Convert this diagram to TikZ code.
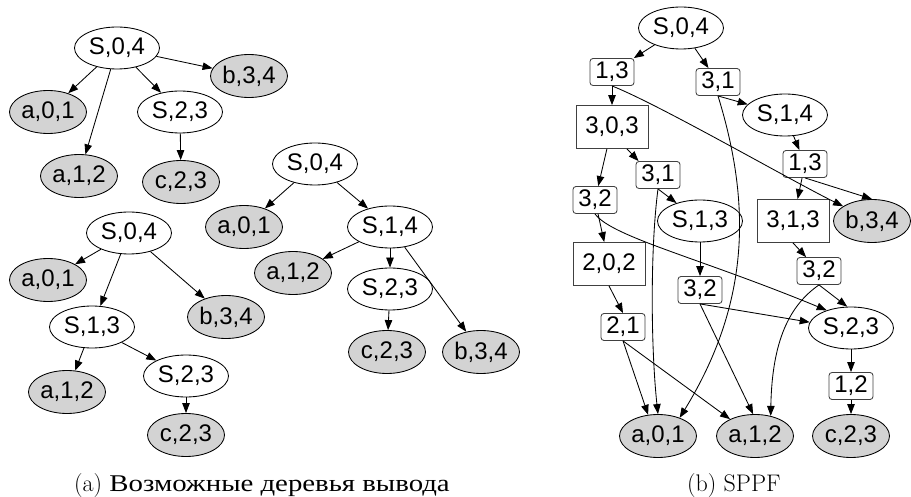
\documentclass[tikz,border=0pt]{standalone}
\usepackage{fontspec}
\setsansfont{Liberation Sans}
\newfontfamily\capfont[FakeStretch=1.2]{Liberation Serif}
\usetikzlibrary{shapes.geometric,arrows.meta}
\definecolor{leafgray}{HTML}{D3D3D3}
\tikzset{
  nd/.style={font=\sffamily\fontsize{24}{24}\selectfont, inner sep=0pt, draw=black, line width=0.85pt},
  inode/.style={nd, ellipse, minimum width=85pt, minimum height=42pt, fill=white},
  leaf/.style={nd, ellipse, minimum width=77pt, minimum height=43pt, fill=leafgray},
  pack/.style={nd, rectangle, rounded corners=3pt, minimum width=44pt, minimum height=27pt, draw=black!75},
  inter/.style={nd, rectangle, minimum width=72pt, minimum height=43pt, draw=black!75},
  conn/.style={-{Triangle[length=10pt,width=7.5pt]}, line width=0.85pt},
  captxt/.style={anchor=base west, inner sep=0pt, font=\fontsize{24}{24}\selectfont},
}
\begin{document}
\begin{tikzpicture}[x=1pt,y=-1pt]
\useasboundingbox (0,0) rectangle (911,497);

% ---- tree 1
\node[inode] (as04) at (117,48) {S,0,4};
\node[leaf]  (ab34) at (249,76) {b,3,4};
\node[leaf]  (aa01) at (48,112) {a,0,1};
\node[inode] (as23) at (180,112) {S,2,3};
\node[leaf]  (aa12) at (79,176) {a,1,2};
\node[leaf]  (ac23) at (181,182) {c,2,3};
\draw[conn] (as04) -- (aa01);
\draw[conn] (as04) -- (aa12);
\draw[conn] (as04) -- (as23);
\draw[conn] (as04) -- (ab34);
\draw[conn] (as23) -- (ac23);

% ---- tree 2
\node[inode] (bs04) at (129,233) {S,0,4};
\node[leaf]  (ba01) at (48,280) {a,0,1};
\node[leaf]  (bb34) at (226,317) {b,3,4};
\node[inode] (bs13) at (92,327) {S,1,3};
\node[inode] (bs23) at (186,376) {S,2,3};
\node[leaf]  (ba12) at (67,392) {a,1,2};
\node[leaf]  (bc23) at (186,435) {c,2,3};
\draw[conn] (bs04) -- (ba01);
\draw[conn] (bs04) -- (bs13);
\draw[conn] (bs04) -- (bb34);
\draw[conn] (bs13) -- (ba12);
\draw[conn] (bs13) -- (bs23);
\draw[conn] (bs23) -- (bc23);

% ---- tree 3
\node[inode] (cs04) at (315,164) {S,0,4};
\node[leaf]  (ca01) at (244,227) {a,0,1};
\node[inode] (cs14) at (390,227) {S,1,4};
\node[leaf]  (ca12) at (293,273) {a,1,2};
\node[inode] (cs23) at (390,289) {S,2,3};
\node[leaf]  (cc23) at (387,352) {c,2,3};
\node[leaf]  (cb34) at (481,352) {b,3,4};
\draw[conn] (cs04) -- (ca01);
\draw[conn] (cs04) -- (cs14);
\draw[conn] (cs14) -- (ca12);
\draw[conn] (cs14) -- (cs23);
\draw[conn] (cs14) -- (cb34);
\draw[conn] (cs23) -- (cc23);

% ---- SPPF
\node[inode] (s04)  at (681,28)  {S,0,4};
\node[pack]  (p13a) at (612,72)  {1,3};
\node[pack]  (p31a) at (718,82)  {3,1};
\node[inter] (r303) at (612,127) {3,0,3};
\node[inode] (s14)  at (785,115) {S,1,4};
\node[pack]  (p13b) at (805,164) {1,3};
\node[pack]  (p31b) at (658,175) {3,1};
\node[pack]  (p32a) at (595,200) {3,2};
\node[inode] (s13)  at (700,221) {S,1,3};
\node[inter] (r313) at (793,221) {3,1,3};
\node[leaf]  (b34)  at (872,221) {b,3,4};
\node[inter] (r202) at (609,264) {2,0,2};
\node[pack]  (p32b) at (700,290) {3,2};
\node[pack]  (p32c) at (819,271) {3,2};
\node[inode] (s23)  at (851,328) {S,2,3};
\node[pack]  (p21)  at (623,327) {2,1};
\node[pack]  (p12)  at (851,386) {1,2};
\node[leaf]  (a01)  at (658,436) {a,0,1};
\node[leaf]  (a12)  at (755,436) {a,1,2};
\node[leaf]  (c23)  at (851,436) {c,2,3};

\draw[conn] (s04) -- (p13a);
\draw[conn] (s04) -- (p31a);
\draw[conn] (p13a) -- (r303);
\draw[conn] (p13a.south) .. controls (660,105) and (790,180) .. (b34.153);
\draw[conn] (p31a.south) -- (s14);
\draw[conn] (p31a.south) .. controls (750,200) and (752,300) .. (a01.40);
\draw[conn] (s14) -- (p13b);
\draw[conn] (p13b) -- (r313);
\draw[conn] (p13b.south) -- (b34.north);
\draw[conn] (r303) -- (p32a);
\draw[conn] ([xshift=15pt]r303.south) -- ([xshift=3pt]p31b.north west);
\draw[conn] (p31b.south) -- (s13);
\draw[conn] (p31b.south) .. controls (650,250) and (651,350) .. (a01.north);
\draw[conn] (p32a) -- (r202);
\draw[conn] (p32a.south) .. controls (612,237) and (700,258) .. (s23.144);
\draw[conn] (r202.south) -- (p21.north);
\draw[conn] (p21.south) -- (a01.115);
\draw[conn] (p21.south) -- (a12.146);
\draw[conn] (s13) -- (p32b);
\draw[conn] (p32b.south) -- (s23.172);
\draw[conn] (p32b.south) -- (a12.95);
\draw[conn] (r313.south) -- (p32c);
\draw[conn] (p32c.south) -- (s23.100);
\draw[conn] (p32c.south) .. controls (790,305) and (772,340) .. (a12.52);
\draw[conn] (s23) -- (p12);
\draw[conn] (p12) -- (c23);

% ---- captions
\node[captxt] (capa) at (74,491) {(a) {\capfont Возможные деревья вывода}};
\node[captxt] (capb) at (687,491) {(b) SPPF};
\end{tikzpicture}
\end{document}
